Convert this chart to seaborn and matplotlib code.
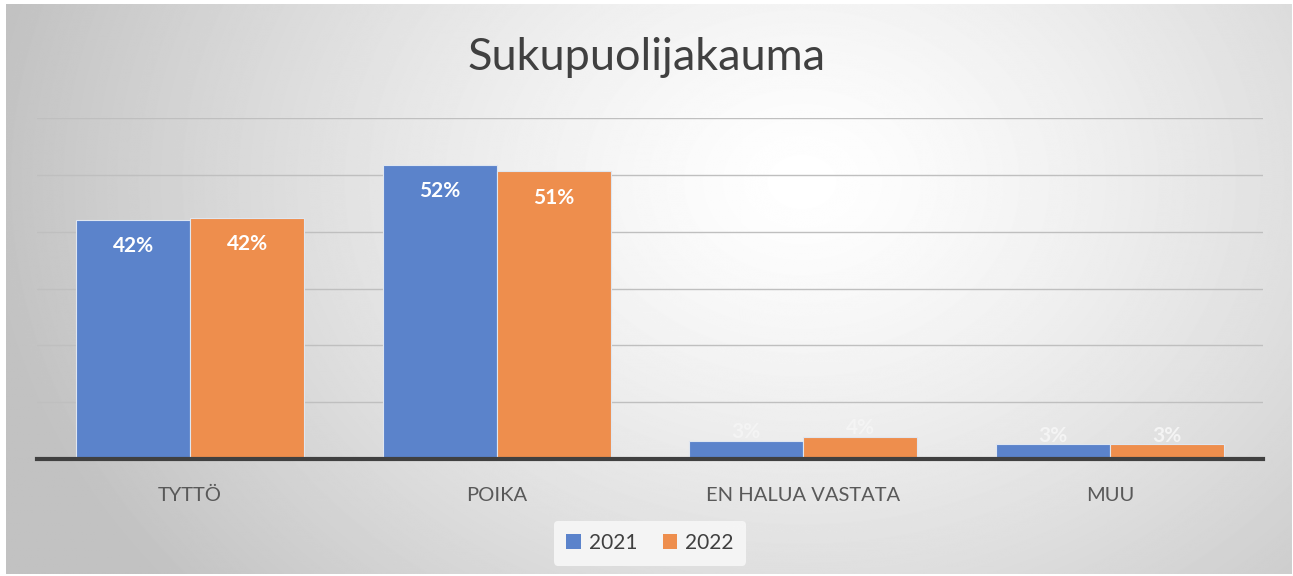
import numpy as np
import pandas as pd
import matplotlib
matplotlib.use("Agg")
import matplotlib.pyplot as plt
import seaborn as sns

categories = ["TYTTÖ", "POIKA", "EN HALUA VASTATA", "MUU"]
years = ["2021", "2022"]
values_2021 = [0.420, 0.518, 0.032, 0.026]
values_2022 = [0.424, 0.506, 0.039, 0.026]
labels_2021 = ["42%", "52%", "3%", "3%"]
labels_2022 = ["42%", "51%", "4%", "3%"]
title = "Sukupuolijakauma"

colors = ["#5b83cb", "#ee8e4d"]

df = pd.DataFrame({
    "cat": categories * 2,
    "year": [years[0]] * 4 + [years[1]] * 4,
    "val": values_2021 + values_2022,
})

sns.set_theme(style="white")
plt.rcParams["font.family"] = ["Lato", "DejaVu Sans"]

W, H = 1293, 576
fig = plt.figure(figsize=(W / 100, H / 100), dpi=100)
fig.patch.set_facecolor("white")

# background gradient
bg = fig.add_axes([0.005, 0.003, 0.994, 0.99], zorder=-10)
yy, xx = np.mgrid[0:H, 0:W]
cx, cy = 800, 180
d = np.sqrt(((xx - cx) / 820.0) ** 2 + ((yy - cy) / 650.0) ** 2)
inten = 1.0 - 0.24 * np.clip(d, 0, 1) ** 1.3
bg.imshow(inten, cmap="gray", vmin=0, vmax=1, aspect="auto", interpolation="bilinear")
bg.set_axis_off()

ax = fig.add_axes([37 / W, 1 - 459 / H, (1263 - 37) / W, (459 - 118) / H])
ax.patch.set_alpha(0)

sns.barplot(data=df, x="cat", y="val", hue="year", palette=colors, width=0.745,
            saturation=1, ax=ax, edgecolor="#dfe6f0", linewidth=0.8, zorder=3,
            legend=False)

ax.set_xlim(-0.5, 3.5)
ax.set_ylim(0, 0.6)
ax.set_yticks(np.arange(0.1, 0.61, 0.1))
ax.yaxis.grid(True, color="#bfbfbf", linewidth=1.0)
ax.set_axisbelow(True)
ax.tick_params(axis="y", left=False, labelleft=False)
ax.tick_params(axis="x", bottom=False, labelsize=14.5, colors="#595959", pad=14)
for s in ["top", "right", "left"]:
    ax.spines[s].set_visible(False)
ax.spines["bottom"].set_color("#404040")
ax.spines["bottom"].set_linewidth(3)
ax.spines["bottom"].set_zorder(5)
ax.set_xlabel("")
ax.set_ylabel("")

# data labels
all_labels = [labels_2021, labels_2022]
for ci, cont in enumerate(ax.containers):
    for bar, lab in zip(cont, all_labels[ci]):
        h = bar.get_height()
        xc = bar.get_x() + bar.get_width() / 2
        if h > 0.1:
            ax.text(xc, h - 0.046, lab, ha="center", va="center", color="white",
                    fontsize=15, fontweight="bold", zorder=6)
        else:
            ax.text(xc, h + 0.015, lab, ha="center", va="center", color="#f4f4f4",
                    fontsize=15, fontweight="bold", zorder=2)

fig.text(0.5, 1 - 58 / H, title, ha="center", va="center", fontsize=32.5, color="#404040")

# legend
from matplotlib.patches import Patch
handles = [Patch(facecolor=c, edgecolor="none") for c in colors]
leg = fig.legend(handles, years, loc="center", bbox_to_anchor=(650 / W, 1 - 543 / H),
                 ncol=2, frameon=True, fontsize=15, handlelength=0.7, handleheight=0.7,
                 handletextpad=0.4, columnspacing=1.2, borderpad=0.6)
leg.get_frame().set_facecolor("#f7f7f7")
leg.get_frame().set_edgecolor("none")
leg.get_frame().set_alpha(0.9)
for t in leg.get_texts():
    t.set_color("#404040")

fig.savefig("out.png", dpi=100)
